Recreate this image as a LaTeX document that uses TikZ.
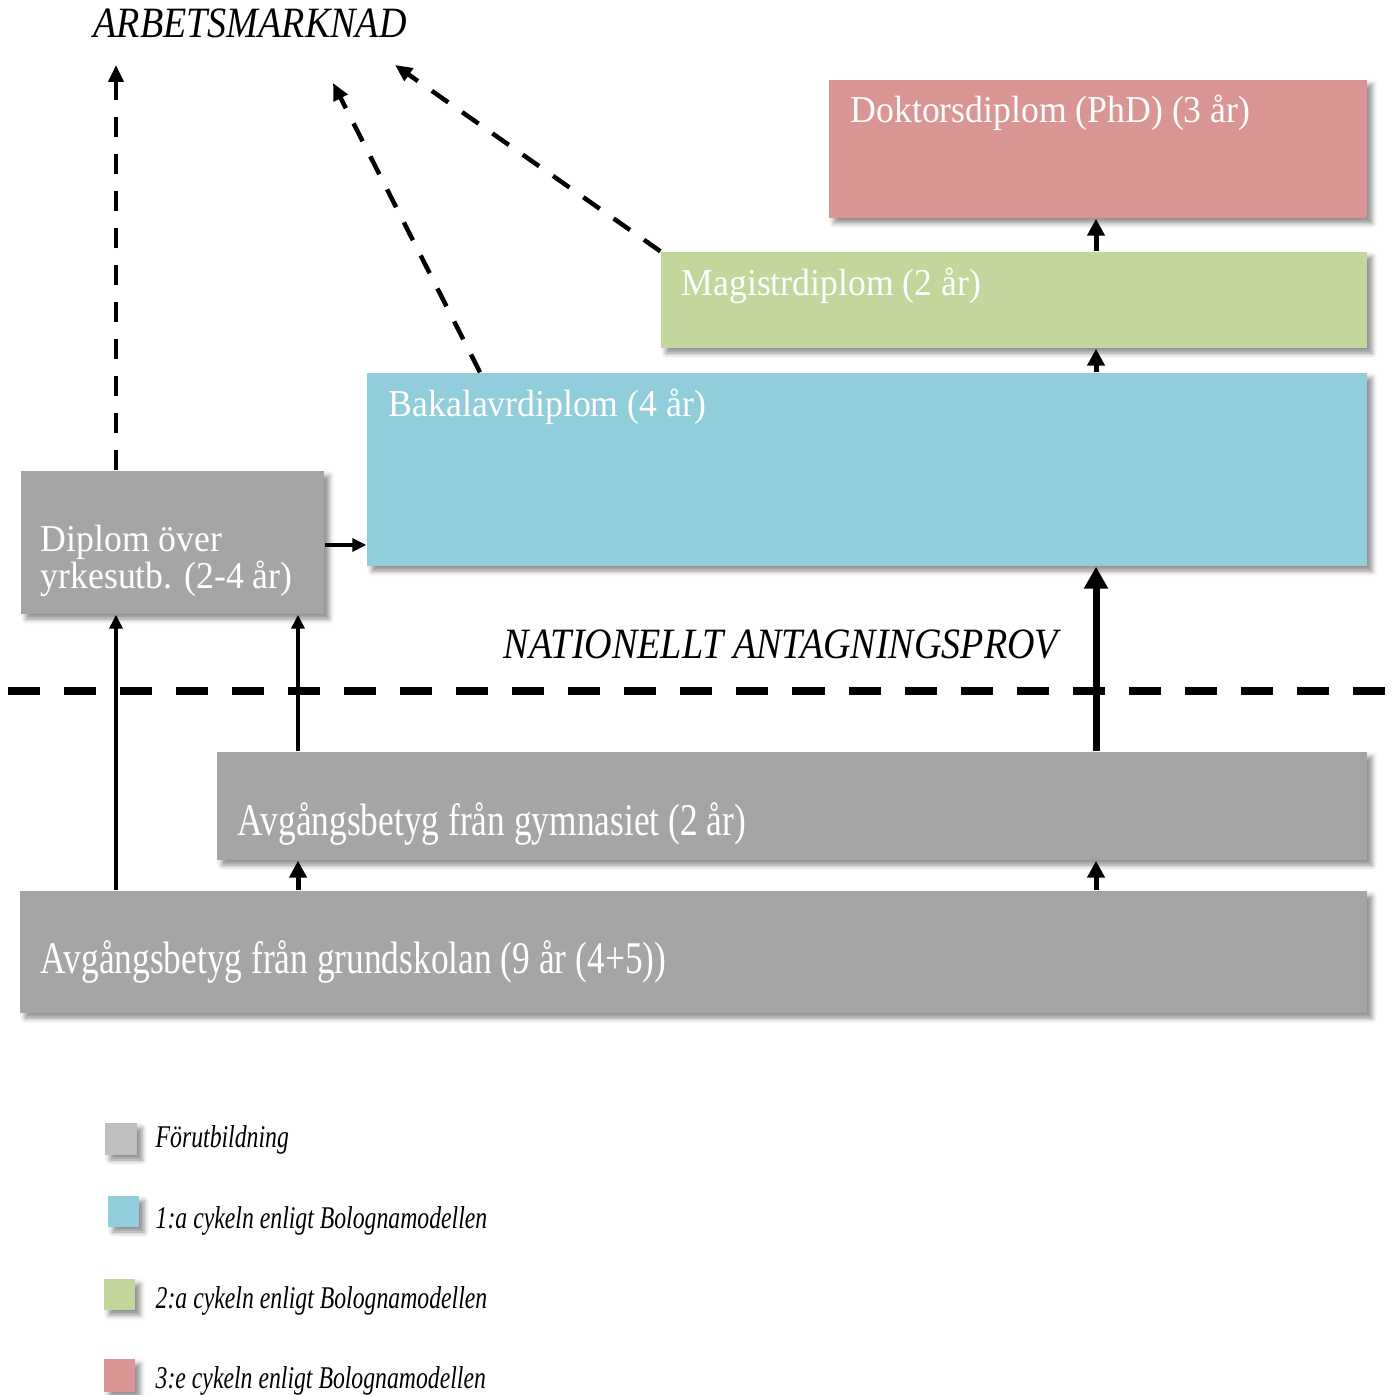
\documentclass[tikz,border=0pt]{standalone}
\usepackage{fontspec}
\setmainfont{Liberation Serif}
\newfontfamily\regf[FakeStretch=0.94]{Liberation Serif}
\newfontfamily\condA[FakeStretch=0.78]{Liberation Serif}
\newfontfamily\condB[FakeStretch=0.88]{Liberation Serif}
\newfontfamily\condC[FakeStretch=0.75]{Liberation Serif}
\usetikzlibrary{arrows.meta,fit,shadows.blur}
\definecolor{boxgray}{HTML}{A5A5A5}
\definecolor{leggray}{HTML}{BFBFBF}
\definecolor{bakc}{HTML}{92CDDC}
\definecolor{magc}{HTML}{C3D69B}
\definecolor{dokc}{HTML}{D99694}
\tikzset{
  box/.style={inner sep=0pt, draw=none, blur shadow={shadow xshift=0.05cm, shadow yshift=-0.05cm, shadow blur radius=0.05cm, shadow opacity=45}},
  btxt/.style={anchor=base west, inner sep=0pt, text=white, font=\regf\fontsize{10.8}{12}\selectfont},
  ctxt/.style={anchor=base west, inner sep=0pt, text=white, font=\condA\fontsize{12.9}{14}\selectfont},
  htxt/.style={anchor=base west, inner sep=0pt, font=\condB\itshape\fontsize{12.3}{14}\selectfont},
  ltxt/.style={anchor=base west, inner sep=0pt, font=\condC\itshape\fontsize{9}{11}\selectfont},
  dasharrow/.style={line width=0.045cm, dash pattern=on 0.2cm off 0.17cm, -{Triangle[length=0.17cm,width=0.15cm]}},
  thinarrow/.style={line width=0.045cm, -{Triangle[length=0.14cm,width=0.13cm]}},
  shortarrow/.style={line width=0.05cm, -{Triangle[length=0.17cm,width=0.17cm]}},
  thickarrow/.style={line width=0.07cm, -{Triangle[length=0.22cm,width=0.23cm]}},
  hline/.style={line width=0.08cm, dash pattern=on 0.32cm off 0.24cm}
}
\begin{document}
\begin{tikzpicture}[x=0.01cm,y=-0.01cm]
\useasboundingbox (0,0) rectangle (1394,1395);
% boxes
\node[box, fill=dokc, fit={(829,80) (1367,218)}] (dok) {};
\node[box, fill=magc, fit={(661,252) (1367,348)}] (mag) {};
\node[box, fill=bakc, fit={(367,373) (1367,566)}] (bak) {};
\node[box, fill=boxgray, fit={(21,471) (324,614)}] (dip) {};
\node[box, fill=boxgray, fit={(217,752) (1367,860)}] (gymn) {};
\node[box, fill=boxgray, fit={(20,891) (1367,1013)}] (grund) {};
% box texts
\node[btxt] (dokT) at (850,123) {Doktorsdiplom (PhD) (3 år)};
\node[btxt] (magT) at (681,296) {Magistrdiplom (2 år)};
\node[btxt] (bakT) at (388,417) {Bakalavrdiplom (4 år)};
\node[btxt] (dipA) at (40,552) {Diplom över};
\node[btxt] (dipB) at (40,588) {yrkesutb. (2-4 år)};
\node[ctxt] (gymT) at (237,835) {Avgångsbetyg från gymnasiet (2 år)};
\node[ctxt] (grundT) at (40,973) {Avgångsbetyg från grundskolan (9 år (4+5))};
% headings
\node[htxt] (arb) at (93,38) {ARBETSMARKNAD};
\node[htxt] (nat) at (503,659) {NATIONELLT ANTAGNINGSPROV};
% dashed horizontal line
\coordinate (hl) at (8,691);
\coordinate (hr) at (1385,691);
\draw[hline] (hl) -- (hr);
% helper coordinates
\coordinate (xL) at (116,0);
\coordinate (xM) at (298,0);
\coordinate (xR) at (1096,0);
\coordinate (xB) at (480,0);
\coordinate (yD) at (0,545);
\coordinate (e1) at (116,65);
\coordinate (e2) at (333,83);
\coordinate (e3) at (395,65);
% dashed arrows to labour market
\draw[dasharrow] (dip.north -| xL) -- (e1);
\draw[dasharrow] (bak.north -| xB) -- (e2);
\draw[dasharrow] (mag.north west) -- (e3);
% solid arrows
\draw[thinarrow] (dip.east |- yD) -- (bak.west |- yD);
\draw[thinarrow] (grund.north -| xL) -- (dip.south -| xL);
\draw[thinarrow] (gymn.north -| xM) -- (dip.south -| xM);
\draw[thickarrow] (gymn.north -| xR) -- (bak.south -| xR);
\draw[shortarrow] (grund.north -| xM) -- (gymn.south -| xM);
\draw[shortarrow] (grund.north -| xR) -- (gymn.south -| xR);
\draw[shortarrow] (bak.north -| xR) -- (mag.south -| xR);
\draw[shortarrow] (mag.north -| xR) -- (dok.south -| xR);
% legend
\node[box, fill=leggray, fit={(105,1123) (137,1155)}] (l1) {};
\node[box, fill=bakc, fit={(108,1196) (139,1227)}] (l2) {};
\node[box, fill=magc, fit={(104,1279) (135,1310)}] (l3) {};
\node[box, fill=dokc, fit={(104,1359) (135,1392)}] (l4) {};
\node[ltxt] (l1T) at (155,1147) {Förutbildning};
\node[ltxt] (l2T) at (155,1228) {1:a cykeln enligt Bolognamodellen};
\node[ltxt] (l3T) at (155,1308) {2:a cykeln enligt Bolognamodellen};
\node[ltxt] (l4T) at (155,1388) {3:e cykeln enligt Bolognamodellen};
\end{tikzpicture}
\end{document}
